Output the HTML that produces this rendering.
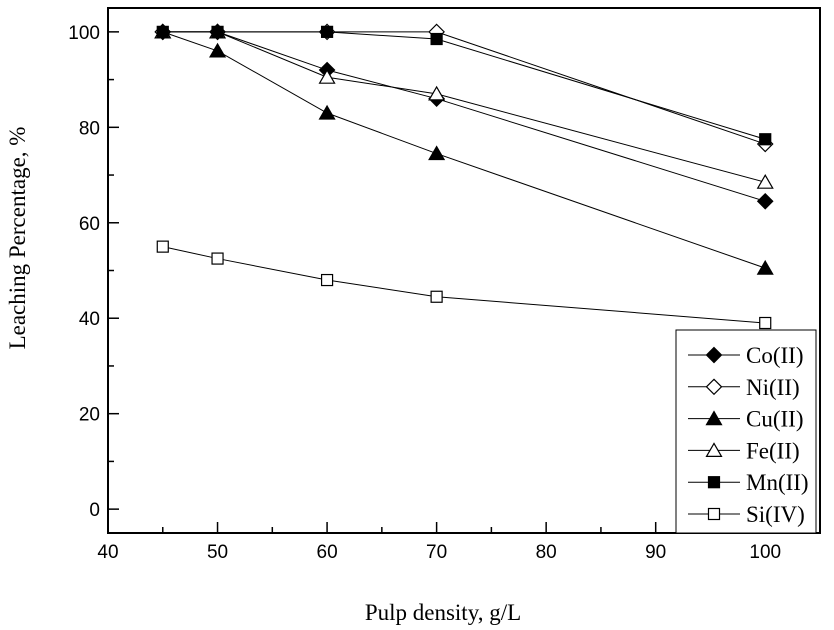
<!DOCTYPE html>
<html><head><meta charset="utf-8"><style>
html,body{margin:0;padding:0;background:#fff;width:834px;height:630px;overflow:hidden}
svg text{font-family:"Liberation Sans",Arial,sans-serif}
</style></head><body>
<svg id="chart" width="834" height="630" xmlns="http://www.w3.org/2000/svg"></svg>
<script>
const xValues=[45,50,60,70,100];
const seriesNames=["Co(II)","Ni(II)","Cu(II)","Fe(II)","Mn(II)","Si(IV)"];
const coValues=[100,100,92,86,64.5];
const niValues=[100,100,100,100,76.5];
const cuValues=[100,96,83,74.5,50.5];
const feValues=[100,100,90.5,87,68.5];
const mnValues=[100,100,100,98.5,77.5];
const siValues=[55,52.5,48,44.5,39];
const xTicks=[40,50,60,70,80,90,100];
const yTicks=[0,20,40,60,80,100];
const markers=["diamond-filled","diamond-open","triangle-filled","triangle-open","square-filled","square-open"];
const allSeries=[coValues,niValues,cuValues,feValues,mnValues,siValues];

const L=108,R=820,T=8,B=533,X0=40,X1=105,Y0=-5,Y1=105;
const sx=v=>L+(v-X0)/(X1-X0)*(R-L);
const sy=v=>B-(v-Y0)/(Y1-Y0)*(B-T);
const svg=document.getElementById('chart');
const NS="http://www.w3.org/2000/svg";
function mk(tag,attrs,parent){const e=document.createElementNS(NS,tag);for(const k in attrs)e.setAttribute(k,attrs[k]);(parent||svg).appendChild(e);return e;}

const frame=mk('rect',{x:L,y:T,width:R-L,height:B-T,fill:'none',stroke:'#000','stroke-width':2});



xTicks.forEach(t=>{
  const l=mk('line',{x1:sx(t),x2:sx(t),y1:B,y2:B-11,stroke:'#000','stroke-width':1.5});
  
  
  if(t+5<=X1){const m=mk('line',{x1:sx(t+5),x2:sx(t+5),y1:B,y2:B-6,stroke:'#000','stroke-width':1.5});
  
  }
  const tx=mk('text',{x:sx(t),y:B+25,'text-anchor':'middle','font-size':19});
  tx.textContent=t;
  
  
});
yTicks.forEach(t=>{
  const l=mk('line',{x1:L,x2:L+11,y1:sy(t),y2:sy(t),stroke:'#000','stroke-width':1.5});
  
  
  if(t+10<=Y1){const m=mk('line',{x1:L,x2:L+6,y1:sy(t+10),y2:sy(t+10),stroke:'#000','stroke-width':1.5});
  
  }
  const tx=mk('text',{x:L-8,y:sy(t)+7,'text-anchor':'end','font-size':19});
  tx.textContent=t;
  
  
});

const xt=mk('text',{x:443,y:620,'text-anchor':'middle','font-size':23,style:'font-family:"Liberation Serif",serif'});
xt.textContent='Pulp density, g/L';


const yt=mk('text',{x:0,y:0,'text-anchor':'middle','font-size':23,transform:'translate(25,238) rotate(-90)',style:'font-family:"Liberation Serif",serif'});
yt.textContent='Leaching Percentage, %';



function marker(type,cx,cy,g){
  const fill=type.endsWith('filled')?'#000':'#fff';
  const a={fill:fill,stroke:'#000','stroke-width':1.2};
  let e;
  if(type.startsWith('diamond')){a.points=`${cx},${cy-7.5} ${cx+7.5},${cy} ${cx},${cy+7.5} ${cx-7.5},${cy}`;e=mk('polygon',a,g);}
  else if(type.startsWith('triangle')){a.points=`${cx},${cy-7} ${cx+7.5},${cy+6} ${cx-7.5},${cy+6}`;e=mk('polygon',a,g);}
  else {a.x=cx-5.5;a.y=cy-5.5;a.width=11;a.height=11;e=mk('rect',a,g);}
  return e;
}

allSeries.forEach((vals,i)=>{
  const g=mk('g',{});
  
  
  const pl=mk('polyline',{points:vals.map((v,j)=>sx(xValues[j])+','+sy(v)).join(' '),fill:'none',stroke:'#000','stroke-width':1},g);
  
  
  vals.forEach((v,j)=>{
    const m=marker(markers[i],sx(xValues[j]),sy(v),g);
    
    
  });
});

const lg=mk('g',{});


const lb=mk('rect',{x:676,y:330,width:140,height:203,fill:'#fff',stroke:'#000','stroke-width':1},lg);


seriesNames.forEach((n,i)=>{
  const y=355+i*31.8;
  const eg=mk('g',{},lg);
  
  
  mk('line',{x1:688,x2:740,y1:y,y2:y,stroke:'#000','stroke-width':1},eg);
  marker(markers[i],714,y,eg);
  const t=mk('text',{x:746,y:y+8,'font-size':23,style:'font-family:"Liberation Serif",serif'},eg);
  t.textContent=n;
});
</script>
</body></html>
